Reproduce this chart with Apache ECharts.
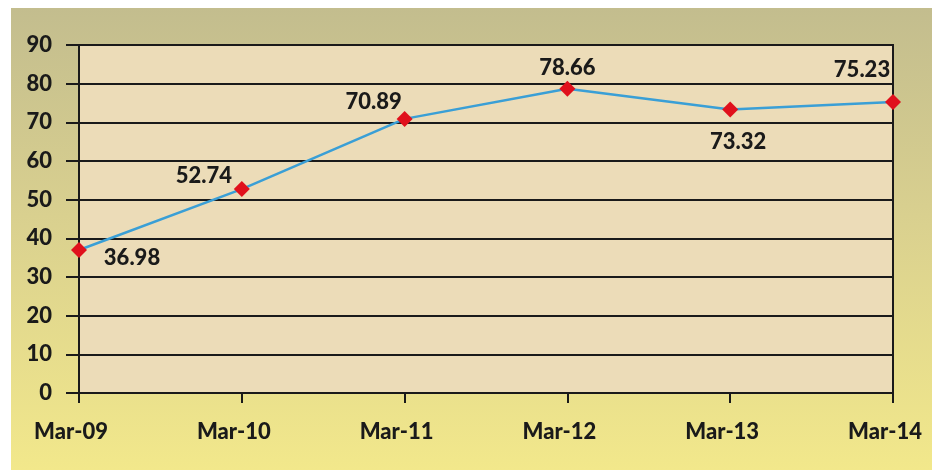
<!DOCTYPE html>
<html>
<head>
<meta charset="utf-8">
<script src="https://cdn.jsdelivr.net/npm/echarts@6/dist/echarts.min.js"></script>
<style>
  html, body { margin: 0; padding: 0; background: #fff; }
  .wrap { width: 932px; height: 470px; padding: 8px 0 0 11px; box-sizing: border-box; }
  #chart {
    width: 921px;
    height: 462px;
    background: linear-gradient(to bottom, #c3bd8e 0%, #d9d08f 45%, #f2e88b 100%);
  }
</style>
</head>
<body>
<div class="wrap"><div id="chart"></div></div>
<script>
// categories and values
var months = ['Mar-09', 'Mar-10', 'Mar-11', 'Mar-12', 'Mar-13', 'Mar-14'];
var values = [36.98, 52.74, 70.89, 78.66, 73.32, 75.23];
// where each value label sits relative to its point
var labelOffsets = [[53, 8], [-38, -13], [-31, -17], [0, -21], [8, 32], [-31, -32]];

var font = 'Lato, "Liberation Sans", sans-serif';
var ink = '#1a1a1a';

var chart = echarts.init(document.getElementById('chart'));
chart.setOption({
  animation: false,
  grid: {
    left: 68, right: 39, top: 37, bottom: 77,
    show: true,
    backgroundColor: '#ecdcb8',
    borderColor: ink,
    borderWidth: 2
  },
  xAxis: {
    type: 'category',
    data: months,
    boundaryGap: false,
    axisLine: { lineStyle: { color: ink, width: 2 } },
    axisTick: { show: true, length: 10, lineStyle: { color: ink, width: 2 } },
    axisLabel: {
      color: ink, fontFamily: font, fontWeight: 900, fontSize: 22, margin: 28,
      padding: [0, 16, 0, 0]   // labels sit a little left of their ticks
    },
    splitLine: { show: false }
  },
  yAxis: {
    type: 'value',
    min: 0, max: 90, interval: 10,
    axisLine: { show: true, lineStyle: { color: ink, width: 2 } },
    axisTick: { show: true, length: 13, lineStyle: { color: ink, width: 2 } },
    axisLabel: { color: ink, fontFamily: font, fontWeight: 900, fontSize: 22, margin: 27 },
    splitLine: { lineStyle: { color: ink, width: 2 } }
  },
  series: [{
    type: 'line',
    data: values.map(function (v, i) {
      return { value: v, label: { offset: labelOffsets[i] } };
    }),
    lineStyle: { color: '#3a9fd6', width: 2.5 },
    symbol: 'diamond',
    symbolSize: 16,
    itemStyle: { color: '#e0101c' },
    label: {
      show: true,
      position: 'inside',
      color: ink,
      fontFamily: font,
      fontWeight: 900,
      fontSize: 22,
      formatter: function (p) { return p.value.toFixed(2); }
    }
  }]
});
</script>
</body>
</html>
